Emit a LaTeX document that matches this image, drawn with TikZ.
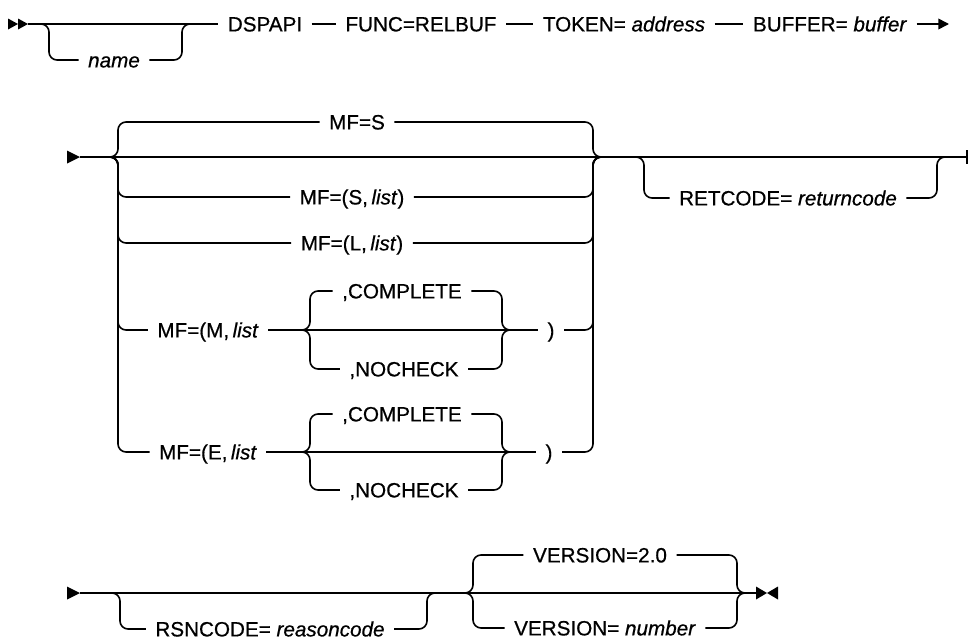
\documentclass[tikz,border=0pt]{standalone}
\usepackage{fontspec}
\setmainfont{Liberation Sans}[RawFeature={embolden=0.6}]
\usetikzlibrary{arrows.meta,calc}

\begin{document}
\begin{tikzpicture}[
  x=0.75pt, y=-0.75pt,
  track/.style={line width=1.2pt},
  bypass/.style={track, rounded corners=6pt},
  kw/.style={font=\fontsize{15.5}{18}\selectfont, inner xsep=7pt, inner ysep=0pt, text height=11.1pt, text depth=0pt},
  tipfill/.style={fill=black},
]
\useasboundingbox (0,0) rectangle (968,639);

% first line
\coordinate (r1start) at (28,24);
\coordinate (r1end) at (949,24);
\coordinate (nmL) at (38,24);
\coordinate (nmR) at (190,24);
\node[kw] (dspapi) at (265,24) {DSPAPI};
\node[kw] (func) at (421,24) {FUNC=RELBUF};
\node[kw] (token) at (624,24) {TOKEN= \textit{address}};
\node[kw] (buffer) at (830,24) {BUFFER= \textit{buffer}};
\node[kw] (name) at (114,60) {\textit{name}};

\fill[tipfill] (8,18.5) -- (18,24) -- (8,29.5) -- cycle (18,18.5) -- (28,24) -- (18,29.5) -- cycle;
\draw[track] (r1start) -- (dspapi);
\draw[bypass] (nmL) -- ++(11,0) |- (name);
\draw[bypass] (name) -| ($(nmR)+(-8,0)$) -- (nmR);
\draw[track] (dspapi) -- (func);
\draw[track] (func) -- (token);
\draw[track] (token) -- (buffer);
\draw[track, -{Triangle[length=8pt,width=8pt]}] (buffer) -- (r1end);

% second line
\coordinate (r2start) at (80,157);
\coordinate (r2end) at (967,157);
\coordinate (jL) at (110,157);
\coordinate (jLv) at (118,157);
\coordinate (jRv) at (593,157);
\coordinate (jR) at (601,157);
\coordinate (c1L) at (302,330);
\coordinate (c1R) at (510,330);
\coordinate (c2L) at (302,452);
\coordinate (c2R) at (510,452);
\coordinate (rcL) at (633,157);
\coordinate (rcR) at (947,157);
\node[kw] (mfs) at (357,122) {MF=S};
\node[kw] (mfsl) at (352,197) {MF=(S,\,\textit{list})};
\node[kw] (mfll) at (352,243) {MF=(L,\,\textit{list})};
\node[kw] (mfm) at (208,330) {MF=(M,\,\textit{list}};
\node[kw] (comp1) at (402,291) {,COMPLETE};
\node[kw] (noch1) at (404,369) {,NOCHECK};
\node[kw] (close1) at (551,330) {)};
\node[kw] (mfe) at (208,452) {MF=(E,\,\textit{list}};
\node[kw] (comp2) at (402,414) {,COMPLETE};
\node[kw] (noch2) at (404,490) {,NOCHECK};
\node[kw] (close2) at (549,452) {)};
\node[kw] (retc) at (788,198) {RETCODE= \textit{returncode}};

\fill[tipfill] (67,150.5) -- (80,157) -- (67,163.5) -- cycle;
\draw[track] (r2start) -- (r2end);
\draw[track] ($(r2end)+(0,-7)$) -- ($(r2end)+(0,7)$);
\foreach \n in {mfs,mfsl,mfll} {
  \draw[bypass] (jL) -- (jLv) |- (\n);
  \draw[bypass] (\n) -| (jRv) -- (jR);
}
\draw[bypass] (jL) -- (jLv) |- (mfm);
\draw[bypass] (jL) -- (jLv) |- (mfe);
\draw[bypass] (close1) -| (jRv) -- (jR);
\draw[bypass] (close2) -| (jRv) -- (jR);
\draw[track] (mfm) -- (close1);
\draw[track] (mfe) -- (close2);
\foreach \n in {comp1,noch1} {
  \draw[bypass] (c1L) -- ++(8,0) |- (\n);
  \draw[bypass] (\n) -| ($(c1R)+(-8,0)$) -- (c1R);
}
\foreach \n in {comp2,noch2} {
  \draw[bypass] (c2L) -- ++(8,0) |- (\n);
  \draw[bypass] (\n) -| ($(c2R)+(-8,0)$) -- (c2R);
}
\draw[bypass] (rcL) -- ++(11,0) |- (retc);
\draw[bypass] (retc) -| ($(rcR)+(-10,0)$) -- (rcR);

% third line
\coordinate (r3start) at (80,593);
\coordinate (r3end) at (757,593);
\coordinate (rsL) at (112,593);
\coordinate (rsR) at (435,593);
\coordinate (verL) at (465,593);
\coordinate (verR) at (745,593);
\node[kw] (rsn) at (270,629) {RSNCODE= \textit{reasoncode}};
\node[kw] (ver1) at (600,555) {VERSION=2.0};
\node[kw] (ver2) at (605,628) {VERSION= \textit{number}};

\fill[tipfill] (67,586.5) -- (80,593) -- (67,599.5) -- cycle;
\draw[track] (r3start) -- (r3end);
\draw[bypass] (rsL) -- ++(8,0) |- (rsn);
\draw[bypass] (rsn) -| ($(rsR)+(-8,0)$) -- (rsR);
\foreach \n in {ver1,ver2} {
  \draw[bypass] (verL) -- ++(8,0) |- (\n);
  \draw[bypass] (\n) -| ($(verR)+(-8,0)$) -- (verR);
}
\fill[tipfill] (756,586.5) -- (767,593) -- (756,599.5) -- cycle (778,586.5) -- (767,593) -- (778,599.5) -- cycle;
\end{tikzpicture}
\end{document}
